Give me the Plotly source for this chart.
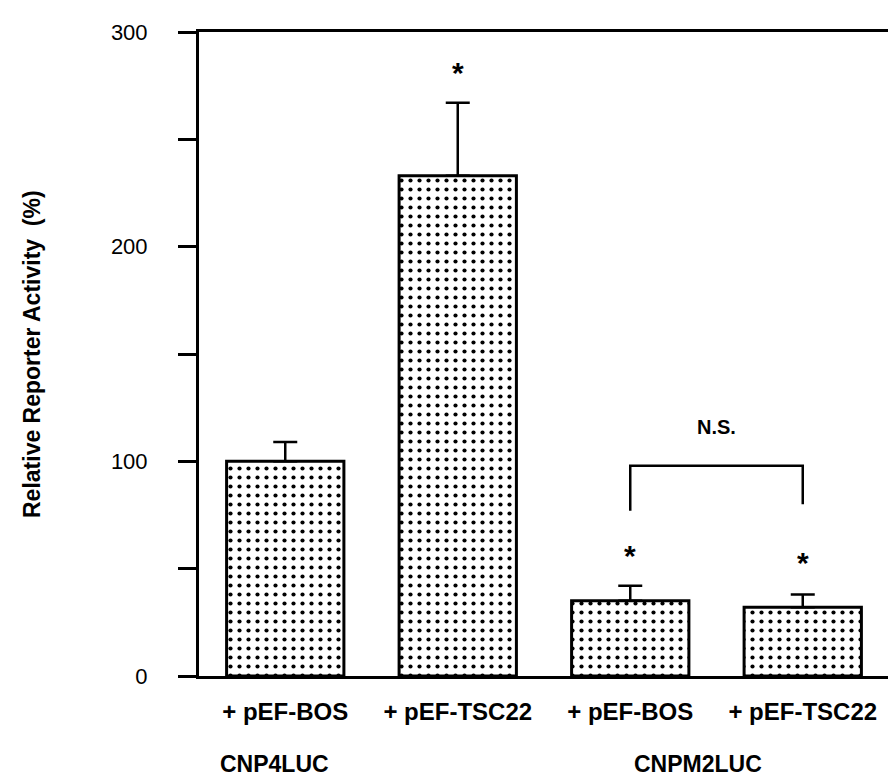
import plotly.graph_objects as go

categories = ["+ pEF-BOS", "+ pEF-TSC22", "+ pEF-BOS ", "+ pEF-TSC22 "]
tick_labels = ["+ pEF-BOS", "+ pEF-TSC22", "+ pEF-BOS", "+ pEF-TSC22"]
values = [100, 233, 35, 32]
errors_plus = [9, 34, 7, 6]
stars = ["", "*", "*", "*"]
star_y = [None, 281, 56, 53]
groups = ["CNP4LUC", "CNPM2LUC"]
group_pos = [-0.06, 2.39]
ns_text = "N.S."
ns_bracket_y = 98
ns_left_bottom = 77
ns_right_bottom = 80
ns_label_y = 110
y_ticks = [0, 100, 200, 300]
y_title = "Relative Reporter Activity  (%)"

xs = list(range(len(categories)))
FONT = "Liberation Sans"

fig = go.Figure()
fig.add_trace(go.Bar(
    x=xs, y=values, width=0.68,
    marker=dict(color="white",
                line=dict(color="black", width=3),
                pattern=dict(shape=".", fgcolor="black", bgcolor="white",
                             size=9, solidity=0.17, fgopacity=1)),
    error_y=dict(type="data", array=errors_plus, arrayminus=[0]*4,
                 symmetric=False, color="black", thickness=2.5, width=12),
    showlegend=False,
))

# asterisks
for i, (s, sy) in enumerate(zip(stars, star_y)):
    if s:
        fig.add_annotation(x=xs[i], y=sy, text="<b>*</b>", showarrow=False,
                           font=dict(size=30, color="black", family=FONT),
                           yanchor="middle")

# N.S. bracket
fig.add_trace(go.Scatter(
    x=[2, 2, 3, 3], y=[ns_left_bottom, ns_bracket_y, ns_bracket_y, ns_right_bottom],
    mode="lines", line=dict(color="black", width=2.5), showlegend=False,
    hoverinfo="skip"))
fig.add_annotation(x=2.5, y=ns_label_y, text="<b>" + ns_text + "</b>", showarrow=False,
                   font=dict(size=20, color="black", family=FONT),
                   yanchor="bottom")

# group labels
for g, p in zip(groups, group_pos):
    fig.add_annotation(x=p, y=0, yref="paper", text="<b>" + g + "</b>", showarrow=False,
                       yanchor="middle", yshift=-88,
                       font=dict(size=23, color="black", family=FONT))

# y-axis title
fig.add_annotation(x=0, xref="paper", y=0.5, yref="paper", text="<b>" + y_title + "</b>",
                   textangle=-90, showarrow=False, xanchor="center", yanchor="middle",
                   xshift=-167, font=dict(size=23, color="black", family=FONT))

fig.update_layout(
    width=896, height=780,
    margin=dict(l=191, r=14, t=22, b=112),
    plot_bgcolor="white", paper_bgcolor="white",
    font=dict(family=FONT, color="black"),
    xaxis=dict(range=[-0.5, 3.5], tickvals=xs, ticktext=["<b>" + t + "</b>" for t in tick_labels],
               ticks="", showline=True, linecolor="black", linewidth=3, mirror=True,
               showgrid=False, zeroline=False, ticklabelstandoff=12,
               tickfont=dict(size=24, family=FONT, color="black")),
    yaxis=dict(range=[0, 300], tickvals=y_ticks, ticks="outside", ticklen=18, tickwidth=3,
               tickcolor="black",
               minor=dict(dtick=50, ticks="outside", ticklen=18, tickwidth=3, tickcolor="black"),
               showline=True, linecolor="black", linewidth=3, mirror=True,
               showgrid=False, zeroline=False, ticklabelstandoff=26,
               tickfont=dict(size=22, family=FONT, color="black")),
)

fig.write_html("out.html")
